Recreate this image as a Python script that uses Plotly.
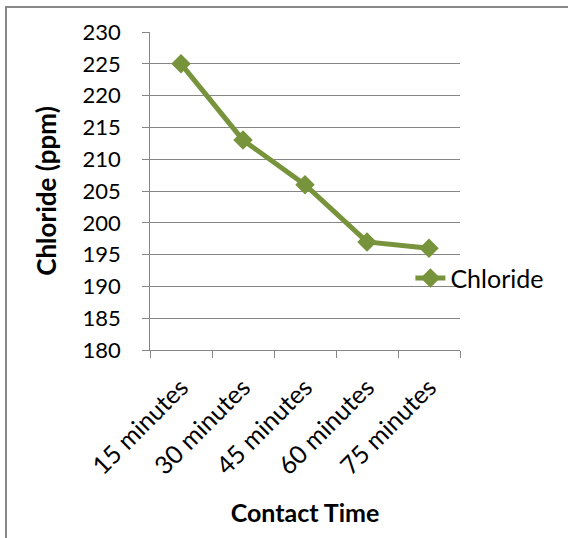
import plotly.graph_objects as go

categories = ["15 minutes", "30 minutes", "45 minutes", "60 minutes", "75 minutes"]
chloride = [225, 213, 206, 197, 196]
series_name = "Chloride"

green = "#77933C"
grid = "#868686"
font_family = "Lato, 'Open Sans', sans-serif"

fig = go.Figure()
fig.add_trace(go.Scatter(
    x=categories, y=chloride, name=series_name, mode="lines+markers",
    line=dict(color=green, width=5),
    marker=dict(symbol="diamond", size=15, color=green),
))

fig.update_layout(
    width=568, height=538,
    margin=dict(l=150, r=108, t=32, b=188, autoexpand=False),
    paper_bgcolor="white", plot_bgcolor="white",
    font=dict(family=font_family, size=22, color="black"),
    showlegend=True,
    legend=dict(x=0.84, y=0.226, xanchor="left", yanchor="middle",
                bgcolor="rgba(0,0,0,0)", font=dict(size=25)),
    xaxis=dict(
        type="category", tickangle=-45, tickson="boundaries",
        ticks="outside", ticklen=7, tickcolor=grid,
        tickfont=dict(size=25), ticklabelstandoff=12,
        showline=True, linecolor=grid, linewidth=1,
        showgrid=False, range=[-0.5, 4.5],
        title=dict(text="<b>Contact Time</b>", font=dict(size=25), standoff=25),
    ),
    yaxis=dict(
        range=[180, 230], dtick=5, tick0=180,
        ticks="outside", ticklen=7, tickcolor=grid,
        tickfont=dict(size=22), ticksuffix="\u00a0\u00a0\u00a0",
        showline=True, linecolor=grid, linewidth=1,
        showgrid=True, gridcolor=grid, gridwidth=1,
        zeroline=False,
        title=dict(text="<b>Chloride (ppm)</b>", font=dict(size=26), standoff=18),
    ),
    shapes=[dict(type="rect", xref="paper", yref="paper",
                 x0=-144/310, x1=1.5, y0=-1.0, y1=(350-7)/318,
                 line=dict(color="#888888", width=2), fillcolor="rgba(0,0,0,0)", layer="below")],
)

fig.write_html("out.html")
